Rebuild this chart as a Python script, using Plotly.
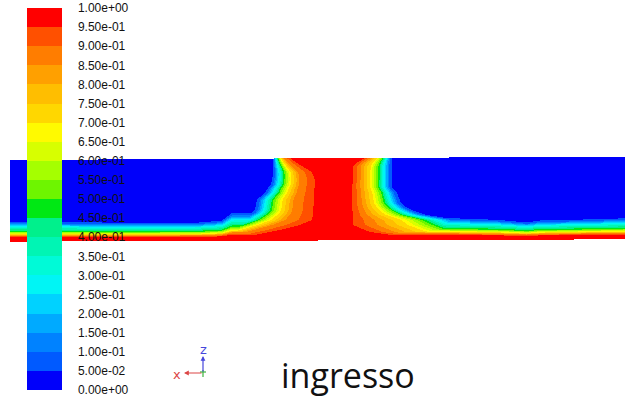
import numpy as np
import plotly.graph_objects as go

# ---------------- colour legend (20 bands, 0 .. 1) ----------------
tick_values = [0.0, 0.05, 0.1, 0.15, 0.2, 0.25, 0.3, 0.35, 0.4, 0.45, 0.5,
               0.55, 0.6, 0.65, 0.7, 0.75, 0.8, 0.85, 0.9, 0.95, 1.0]
tick_labels = ["0.00e+00", "5.00e-02", "1.00e-01", "1.50e-01", "2.00e-01",
               "2.50e-01", "3.00e-01", "3.50e-01", "4.00e-01", "4.50e-01",
               "5.00e-01", "5.50e-01", "6.00e-01", "6.50e-01", "7.00e-01",
               "7.50e-01", "8.00e-01", "8.50e-01", "9.00e-01", "9.50e-01",
               "1.00e+00"]
band_colors = [
    "rgb(0,0,250)", "rgb(0,90,255)", "rgb(0,130,255)", "rgb(0,170,255)",
    "rgb(0,210,255)", "rgb(0,245,245)", "rgb(0,250,215)", "rgb(0,245,180)",
    "rgb(0,240,140)", "rgb(0,232,20)", "rgb(110,245,0)", "rgb(165,255,0)",
    "rgb(215,255,0)", "rgb(255,250,0)", "rgb(255,215,0)", "rgb(255,190,0)",
    "rgb(255,160,0)", "rgb(255,125,0)", "rgb(255,80,0)", "rgb(255,0,0)",
]

# ---------------- field description ----------------
# channel outline (x along the channel, y in picture rows)
domain_x = [10, 625]
domain_top = [160.0, 156.5]
domain_bottom = [241.7, 239.3]

# wall layer: outer (0.05) edge of the layer along the channel
wall_edge_x = [10, 60, 100, 160, 200, 222, 228, 232, 250, 256, 300, 392,
               420, 433, 467, 500, 527, 540, 567, 600, 625]
wall_edge_y = [221.7, 222.0, 222.5, 222.7, 222.5, 220.5, 216.0, 213.0, 213.0,
               214.0, 215.0, 216.0, 216.0, 217.7, 218.7, 220.0, 222.5, 220.5,
               220.0, 219.0, 218.3]
# wall layer profile: value versus height / layer thickness
wall_s = [0.0, 0.22, 0.30, 0.37, 0.50, 0.73, 0.92, 1.0, 1.04]
wall_v = [1.0, 0.95, 0.85, 0.70, 0.50, 0.30, 0.10, 0.05, 0.0]

# inflow jet: red core edges and outer (0.05) edges versus row
jetL_y = [156, 158, 163, 168, 172, 180, 200, 215, 220, 225, 230, 235, 238, 242]
jetL_core = [288, 290, 297, 305, 312, 315, 314, 313, 312, 300, 280, 255, 230, 200]
jetL_edge_y = [156, 175, 185, 188, 193, 197, 200, 210, 213, 220, 230, 242]
jetL_edge = [273, 273, 271, 268, 265, 260, 257, 255, 252, 238, 208, 170]

jetR_y = [156, 158, 162, 166, 200, 225, 228, 232, 235, 238, 242]
jetR_core = [368, 365, 358, 353, 352, 353, 360, 370, 392, 420, 460]
jetR_edge_y = [156, 187, 193, 203, 207, 210, 213, 215, 217, 220, 230, 242]
jetR_edge = [392, 392, 397, 401, 406, 412, 420, 427, 440, 460, 490, 520]

# jet profiles: value versus distance from core / band width
jet_v = [0.95, 0.85, 0.70, 0.50, 0.30, 0.10, 0.05, 0.0]
jetL_s = [0.0, 0.36, 0.55, 0.71, 0.83, 0.95, 1.0, 1.04]
jetR_s = [0.0, 0.20, 0.45, 0.65, 0.78, 0.93, 1.0, 1.04]

# ---------------- build the grid ----------------
xs = np.arange(10.5, 625.0, 1.0)
ys = np.arange(155.5, 243.0, 1.0)
X, Y = np.meshgrid(xs, ys)

top = np.interp(X, domain_x, domain_top)
bot = np.interp(X, domain_x, domain_bottom)
h = np.clip(bot - Y, 0, None)
delta = bot - np.interp(X, wall_edge_x, wall_edge_y)
w = np.interp(h / delta, wall_s, wall_v)

cL = np.interp(Y, jetL_y, jetL_core)
bL = np.interp(Y, jetL_edge_y, jetL_edge)
cR = np.interp(Y, jetR_y, jetR_core)
bR = np.interp(Y, jetR_edge_y, jetR_edge)
sL = (cL - X) / (cL - bL)
sR = (X - cR) / (bR - cR)
jl = np.where(sL >= 0, np.interp(sL, jetL_s, jet_v), 0.0)
jr = np.where(sR >= 0, np.interp(sR, jetR_s, jet_v), 0.0)
j = np.where((X >= cL) & (X <= cR), 1.0, np.maximum(jl, jr))

Z = np.maximum(w, j)
Z = np.where((Y < top) | (Y > bot), np.nan, Z)
Z = np.round(Z, 3)

colorscale = []
for k, c in enumerate(band_colors):
    colorscale.append([k / 20, c])
    colorscale.append([(k + 1) / 20, c])

fig = go.Figure()
fig.add_trace(go.Heatmap(
    x=xs, y=ys, z=Z, zmin=0, zmax=1, colorscale=colorscale,
    zsmooth=False, hoverinfo="skip",
    colorbar=dict(
        thickness=35, thicknessmode="pixels",
        len=382, lenmode="pixels",
        x=27 / 625, xanchor="left", y=1 - 8 / 397, yanchor="top",
        xpad=0, ypad=0, outlinewidth=0,
        tickmode="array", tickvals=tick_values, ticktext=tick_labels,
        ticks="outside", ticklen=14, tickcolor="rgba(0,0,0,0)",
        ticklabeloverflow="allow",
        tickfont=dict(family="Liberation Sans, Arial, sans-serif", size=12,
                      color="#111111"),
    ),
))

# coordinate triad
ox, oy = 203, 373
fig.add_annotation(x=ox, y=356, ax=ox, ay=oy, xref="x", yref="y",
                   axref="x", ayref="y", text="", showarrow=True,
                   arrowhead=2, arrowsize=0.8, arrowwidth=1.2,
                   arrowcolor="rgb(70,70,220)")
fig.add_annotation(x=184, y=oy, ax=ox, ay=oy, xref="x", yref="y",
                   axref="x", ayref="y", text="", showarrow=True,
                   arrowhead=2, arrowsize=0.8, arrowwidth=1.2,
                   arrowcolor="rgb(220,70,70)")
fig.add_annotation(x=ox, y=349, text="z", showarrow=False,
                   font=dict(family="DejaVu Sans", size=13, color="rgb(70,70,220)"))
fig.add_annotation(x=177, y=374, text="x", showarrow=False,
                   font=dict(family="DejaVu Sans", size=13, color="rgb(220,70,70)"))
fig.add_shape(type="line", x0=ox, x1=ox, y0=oy - 3, y1=oy + 4,
              line=dict(color="rgb(60,180,60)", width=1.2))
fig.add_shape(type="line", x0=ox - 3, x1=ox + 3, y0=oy - 1, y1=oy - 1,
              line=dict(color="rgb(60,180,60)", width=1.2))

fig.add_annotation(x=348, y=375, text="ingresso", showarrow=False,
                   font=dict(family="Open Sans", size=34, color="#111111"))

fig.update_layout(
    width=625, height=397,
    margin=dict(l=0, r=0, t=0, b=0),
    paper_bgcolor="white", plot_bgcolor="white",
    xaxis=dict(visible=False, range=[0, 625], fixedrange=True),
    yaxis=dict(visible=False, range=[397, 0], fixedrange=True),
    showlegend=False,
)

fig.write_html("out.html")
